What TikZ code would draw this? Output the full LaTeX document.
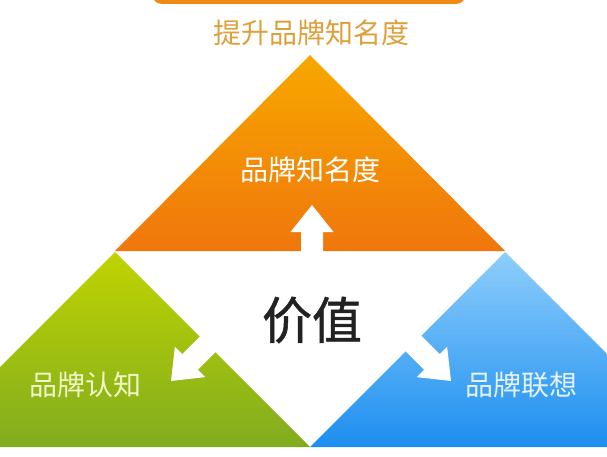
\documentclass[tikz,border=0pt]{standalone}
\usepackage{fontspec}
\newfontfamily\cjk{Noto Sans CJK SC}
\newfontfamily\cjkbold[FakeBold=1]{Noto Sans CJK SC}
\usepackage{xcolor}
\usepackage{tikz}
\usetikzlibrary{positioning, calc}
\definecolor{barorange}{RGB}{240, 138, 20}
\definecolor{headgold}{RGB}{222, 160, 58}
\definecolor{orangetop}{RGB}{247, 168, 0}
\definecolor{orangebot}{RGB}{240, 118, 12}
\definecolor{greentop}{RGB}{192, 212, 0}
\definecolor{greenbot}{RGB}{128, 172, 32}
\definecolor{bluetop}{RGB}{142, 206, 250}
\definecolor{bluebot}{RGB}{28, 142, 240}
\definecolor{greentext}{RGB}{240, 246, 200}
\definecolor{bluetext}{RGB}{228, 242, 255}
\definecolor{valuegray}{RGB}{34, 34, 34}

\tikzset{
    pics/whitearrow/.style={code={
        \fill[white] (0,0) -- (-27,21.5) -- (-27,11) -- (-#1,11) -- (-#1,-11) -- (-27,-11) -- (-27,-21.5) -- cycle;
    }}
}

\begin{document}
\begin{tikzpicture}[
        x=1pt, y=-1pt,
        caption/.style={font=\cjk\fontsize{28}{30}\selectfont, inner sep=0pt, align=center},
        bigcaption/.style={font=\cjkbold\fontsize{50}{54}\selectfont, inner sep=0pt, text=valuegray}
    ]
        \clip (0,0) rectangle (607,457);
        \fill[white] (0,0) rectangle (607,457);

        % Top bar and heading
        \fill[barorange, rounded corners=10pt] (152,-20) rectangle (466,4);
        \node[caption, text=headgold] (heading) at (311,33) {提升品牌知名度};

        % Corners
        \coordinate (apex) at (310,55);
        \coordinate (midleft) at (115,251);
        \coordinate (midright) at (505,251);
        \coordinate (bottommid) at (310,447);
        \coordinate (bottomleft) at (-80,447);
        \coordinate (bottomright) at (700,447);

        % Triangles
        \shade[top color=orangetop, bottom color=orangebot] (apex) -- (midright) -- (midleft) -- cycle;
        \shade[top color=greentop, bottom color=greenbot] ($(midleft)+(0,1)$) -- (bottommid) -- (bottomleft) -- cycle;
        \shade[top color=bluetop, bottom color=bluebot] ($(midright)+(0,1)$) -- (bottomright) -- (bottommid) -- cycle;

        % Arrows
        \pic[rotate=90] at (312,205) {whitearrow=50};
        \pic[rotate=225] at (171,381) {whitearrow=80};
        \pic[rotate=-45] at (451,381) {whitearrow=80};

        % Labels
        \node[caption, text=white] (awareness) at (310,170) {品牌知名度};
        \node[bigcaption] (value) at (312,320) {价值};
        \node[caption, text=greentext] (recognition) at (85,385) {品牌认知};
        \node[caption, text=bluetext] (association) at (521,385) {品牌联想};
    \end{tikzpicture}
\end{document}
